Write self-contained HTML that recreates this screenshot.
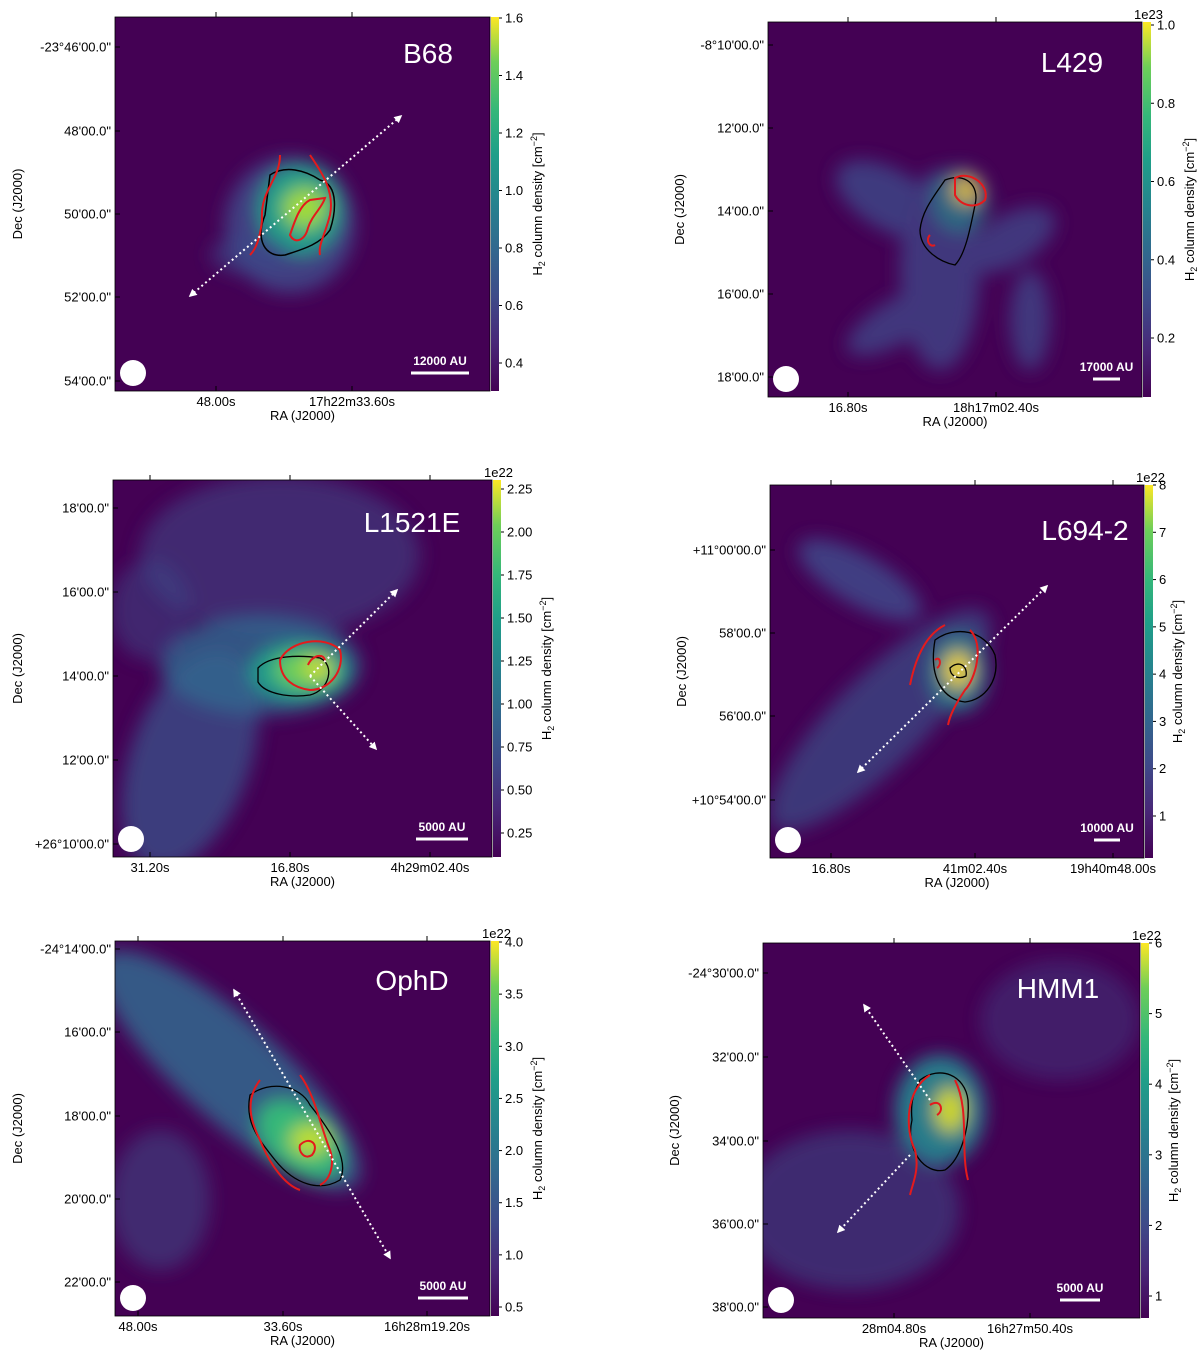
<!DOCTYPE html>
<html><head><meta charset="utf-8"><style>
body{margin:0;background:#fff;}
svg text{font-family:"Liberation Sans",sans-serif;}
</style></head><body>
<svg id="fig" width="1200" height="1356" viewBox="0 0 1200 1356" xmlns="http://www.w3.org/2000/svg">
<defs>
<linearGradient id="viridis" x1="0" y1="1" x2="0" y2="0">
<stop offset="0" stop-color="#440154"/><stop offset="0.13" stop-color="#482878"/><stop offset="0.25" stop-color="#3e4a89"/><stop offset="0.38" stop-color="#31688e"/><stop offset="0.5" stop-color="#26828e"/><stop offset="0.63" stop-color="#1f9e89"/><stop offset="0.75" stop-color="#35b779"/><stop offset="0.88" stop-color="#6ece58"/><stop offset="1" stop-color="#fde725"/>
</linearGradient>
<filter id="blur" x="-50%" y="-50%" width="200%" height="200%"><feGaussianBlur stdDeviation="9"/></filter>
<clipPath id="c1"><rect x="115" y="17" width="375" height="374"/></clipPath>
<clipPath id="c2"><rect x="768" y="22" width="374" height="375"/></clipPath>
<clipPath id="c3"><rect x="113" y="480" width="379" height="377"/></clipPath>
<clipPath id="c4"><rect x="770" y="485" width="374" height="373"/></clipPath>
<clipPath id="c5"><rect x="115" y="941" width="375" height="375"/></clipPath>
<clipPath id="c6"><rect x="763" y="943" width="377" height="375"/></clipPath>
<marker id="ah" viewBox="0 0 10 10" refX="8" refY="5" markerWidth="4" markerHeight="4" orient="auto-start-reverse"><path d="M0,0 L10,5 L0,10 z" fill="#fff"/></marker>
</defs>

<g clip-path="url(#c1)">
<rect x="115" y="17" width="375" height="374" fill="#440154"/>
<g filter="url(#blur)">
<ellipse cx="290" cy="225" rx="65" ry="68" fill="#3e4a89" opacity="0.85"/>
<ellipse cx="300" cy="210" rx="42" ry="45" fill="#1f9e89"/>
<ellipse cx="305" cy="208" rx="22" ry="20" fill="#a0da39"/>
<ellipse cx="250" cy="255" rx="40" ry="20" fill="#3e4a89" opacity="0.6"/>
</g>
<path d="M270,175 C285,165 305,170 320,180 C340,185 335,215 330,230 C320,245 300,250 285,255 C265,258 255,240 265,215 Z" fill="none" stroke="#000" stroke-width="1.5"/>
<path d="M280,155 C280,180 260,190 262,220 C260,240 255,250 250,255 M310,155 C320,170 335,190 330,215 C325,235 318,245 320,255 M310,200 C300,205 295,220 290,235 C295,245 305,240 308,228 C312,215 322,208 325,198 Z" fill="none" stroke="#e41a1c" stroke-width="2"/>
</g>
<g clip-path="url(#c2)">
<rect x="768" y="22" width="374" height="375" fill="#440154"/>
<g filter="url(#blur)" opacity="0.8">
<ellipse cx="890" cy="200" rx="60" ry="30" transform="rotate(30 890 200)" fill="#3e4a89"/>
<ellipse cx="940" cy="270" rx="40" ry="100" fill="#414487"/>
<ellipse cx="900" cy="320" rx="60" ry="22" transform="rotate(-30 900 320)" fill="#414487"/>
<ellipse cx="1010" cy="240" rx="50" ry="25" transform="rotate(-30 1010 240)" fill="#414487"/>
<ellipse cx="1030" cy="320" rx="20" ry="50" fill="#414487"/>
<ellipse cx="960" cy="200" rx="28" ry="32" fill="#26828e"/>
<ellipse cx="966" cy="190" rx="13" ry="13" fill="#fde725"/>
</g>
<path d="M945,180 C965,172 980,185 975,205 C970,230 965,255 955,265 C940,262 920,250 920,230 C922,210 935,195 945,180 Z" fill="none" stroke="#000" stroke-width="1.3"/>
<path d="M955,178 C970,170 990,185 985,200 C975,210 960,205 955,195 Z M930,235 C925,240 930,248 935,245" fill="none" stroke="#e41a1c" stroke-width="2"/>
</g>
<g clip-path="url(#c3)">
<rect x="113" y="480" width="379" height="377" fill="#440154"/>
<g filter="url(#blur)">
<ellipse cx="280" cy="555" rx="140" ry="80" fill="#3e4a89" opacity="0.55"/>
<ellipse cx="190" cy="760" rx="60" ry="115" transform="rotate(20 190 760)" fill="#3b528b" opacity="0.75"/>
<ellipse cx="260" cy="665" rx="100" ry="50" fill="#31688e" opacity="0.8"/>
<ellipse cx="150" cy="610" rx="40" ry="50" fill="#3e4a89" opacity="0.5"/>
<ellipse cx="300" cy="672" rx="50" ry="30" fill="#1f9e89"/>
<ellipse cx="305" cy="670" rx="30" ry="18" fill="#6ece58"/>
<ellipse cx="318" cy="668" rx="13" ry="10" fill="#d8e219"/>
</g>
<path d="M258,668 C270,655 300,655 320,658 C335,665 330,690 310,695 C290,698 265,694 258,682 Z" fill="none" stroke="#000" stroke-width="1.3"/>
<path d="M280,660 C290,640 325,635 340,650 C345,670 330,690 310,690 C295,688 280,680 280,660 Z M308,665 C312,655 325,652 325,662" fill="none" stroke="#e41a1c" stroke-width="2"/>
</g>
<g clip-path="url(#c4)">
<rect x="770" y="485" width="374" height="373" fill="#440154"/>
<g filter="url(#blur)" opacity="0.9">
<ellipse cx="880" cy="720" rx="150" ry="45" transform="rotate(-45 880 720)" fill="#3b528b" opacity="0.75"/>
<ellipse cx="860" cy="580" rx="70" ry="25" transform="rotate(30 860 580)" fill="#414487"/>
<ellipse cx="958" cy="672" rx="30" ry="40" fill="#26828e"/>
<ellipse cx="958" cy="670" rx="14" ry="18" fill="#fde725"/>
</g>
<path d="M935,640 C955,625 985,630 995,655 C1000,680 985,700 965,702 C945,700 928,680 935,640 Z M950,668 C958,660 968,665 966,676 C958,680 950,676 950,668 Z" fill="none" stroke="#000" stroke-width="1.3"/>
<path d="M945,625 C925,635 915,660 910,685 M970,630 C985,645 975,680 965,690 C955,705 950,715 948,725 M935,660 C940,655 942,665 937,668" fill="none" stroke="#e41a1c" stroke-width="2"/>
</g>
<g clip-path="url(#c5)">
<rect x="115" y="941" width="375" height="375" fill="#440154"/>
<g filter="url(#blur)">
<ellipse cx="230" cy="1070" rx="170" ry="50" transform="rotate(42 230 1070)" fill="#31688e" opacity="0.85"/>
<ellipse cx="160" cy="1200" rx="50" ry="70" fill="#3b528b" opacity="0.5"/>
<ellipse cx="300" cy="1140" rx="50" ry="32" transform="rotate(40 300 1140)" fill="#35b779"/>
<ellipse cx="310" cy="1140" rx="20" ry="15" fill="#c0df25"/>
</g>
<path d="M250,1095 C270,1080 300,1085 310,1105 C330,1130 350,1160 340,1180 C320,1192 295,1185 275,1160 C255,1135 245,1120 250,1095 Z" fill="none" stroke="#000" stroke-width="1.3"/>
<path d="M260,1080 C245,1100 250,1120 260,1140 C270,1165 285,1185 300,1190 M300,1075 C315,1095 320,1125 330,1150 C335,1165 330,1180 320,1185 M300,1145 C310,1135 320,1145 312,1155 C305,1160 298,1152 300,1145 Z" fill="none" stroke="#e41a1c" stroke-width="2"/>
</g>
<g clip-path="url(#c6)">
<rect x="763" y="943" width="377" height="375" fill="#440154"/>
<g filter="url(#blur)" opacity="0.95">
<ellipse cx="850" cy="1210" rx="110" ry="80" fill="#3b528b" opacity="0.55"/>
<ellipse cx="1060" cy="1020" rx="80" ry="60" fill="#414487" opacity="0.45"/>
<ellipse cx="940" cy="1110" rx="45" ry="55" fill="#26828e"/>
<ellipse cx="950" cy="1110" rx="15" ry="22" fill="#d8e219"/>
</g>
<path d="M920,1080 C940,1065 965,1075 968,1100 C970,1130 960,1160 945,1170 C925,1175 905,1150 912,1120 C910,1100 915,1090 920,1080 Z" fill="none" stroke="#000" stroke-width="1.3"/>
<path d="M930,1075 C905,1090 905,1130 915,1150 C920,1170 912,1185 910,1195 M955,1080 C970,1110 960,1150 968,1180 M930,1105 C940,1098 945,1110 937,1115" fill="none" stroke="#e41a1c" stroke-width="2"/>
</g>

<g stroke="#fff" stroke-width="2" stroke-dasharray="2,3" fill="none">
<line x1="190" y1="296" x2="401" y2="116" marker-start="url(#ah)" marker-end="url(#ah)"/>
<line x1="310" y1="676" x2="397" y2="590" marker-end="url(#ah)"/>
<line x1="310" y1="676" x2="376" y2="749" marker-end="url(#ah)"/>
<line x1="858" y1="772" x2="1047" y2="586" marker-start="url(#ah)" marker-end="url(#ah)"/>
<line x1="234" y1="990" x2="390" y2="1258" marker-start="url(#ah)" marker-end="url(#ah)"/>
<line x1="930" y1="1100" x2="864" y2="1005" marker-end="url(#ah)"/>
<line x1="910" y1="1155" x2="838" y2="1232" marker-end="url(#ah)"/>
</g>
<g id="panels"></g>
</svg>
<script>
const b68CbTicks=[0.4,0.6,0.8,1.0,1.2,1.4,1.6];
const l429CbTicks=[0.2,0.4,0.6,0.8,1.0];
const l1521eCbTicks=[0.25,0.50,0.75,1.00,1.25,1.50,1.75,2.00,2.25];
const l694CbTicks=[1,2,3,4,5,6,7,8];
const ophdCbTicks=[0.5,1.0,1.5,2.0,2.5,3.0,3.5,4.0];
const hmm1CbTicks=[1,2,3,4,5,6];
const b68Dec=['-23°46\'00.0"','48\'00.0"','50\'00.0"','52\'00.0"','54\'00.0"'];
const l429Dec=['-8°10\'00.0"','12\'00.0"','14\'00.0"','16\'00.0"','18\'00.0"'];
const l1521eDec=['18\'00.0"','16\'00.0"','14\'00.0"','12\'00.0"','+26°10\'00.0"'];
const l694Dec=['+11°00\'00.0"','58\'00.0"','56\'00.0"','+10°54\'00.0"'];
const ophdDec=['-24°14\'00.0"','16\'00.0"','18\'00.0"','20\'00.0"','22\'00.0"'];
const hmm1Dec=['-24°30\'00.0"','32\'00.0"','34\'00.0"','36\'00.0"','38\'00.0"'];
const b68Ra=['48.00s','17h22m33.60s'];
const l429Ra=['16.80s','18h17m02.40s'];
const l1521eRa=['31.20s','16.80s','4h29m02.40s'];
const l694Ra=['16.80s','41m02.40s','19h40m48.00s'];
const ophdRa=['48.00s','33.60s','16h28m19.20s'];
const hmm1Ra=['28m04.80s','16h27m50.40s'];

const NS='http://www.w3.org/2000/svg';
const root=document.getElementById('panels');
function mk(tag,attrs,parent,txt){const e=document.createElementNS(NS,tag);for(const k in attrs)e.setAttribute(k,attrs[k]);if(txt!==undefined)e.textContent=txt;parent.appendChild(e);return e;}

const panels=[
 {id:'b68',title:'B68',x:115,y:17,w:375,h:374,cb:b68CbTicks,cbTop:18,cbBot:363,exp:'',dec:b68Dec,decY:[47,131,214,297,381],ra:b68Ra,raX:[216,352],scale:'12000 AU',sb:[411,469],tx:428,ty:53},
 {id:'l429',title:'L429',x:768,y:22,w:374,h:375,cb:l429CbTicks,cbTop:25,cbBot:338,exp:'1e23',dec:l429Dec,decY:[45,128,211,294,377],ra:l429Ra,raX:[848,996],scale:'17000 AU',sb:[1093,1120],tx:1072,ty:62},
 {id:'l1521e',title:'L1521E',x:113,y:480,w:379,h:377,cb:l1521eCbTicks,cbTop:489,cbBot:833,exp:'1e22',dec:l1521eDec,decY:[508,592,676,760,844],ra:l1521eRa,raX:[150,290,430],scale:'5000 AU',sb:[416,468],tx:412,ty:522},
 {id:'l694-2',title:'L694-2',x:770,y:485,w:374,h:373,cb:l694CbTicks,cbTop:485,cbBot:816,exp:'1e22',dec:l694Dec,decY:[550,633,716,800],ra:l694Ra,raX:[831,975,1113],scale:'10000 AU',sb:[1094,1120],tx:1085,ty:530},
 {id:'ophd',title:'OphD',x:115,y:941,w:375,h:375,cb:ophdCbTicks,cbTop:942,cbBot:1307,exp:'1e22',dec:ophdDec,decY:[949,1032,1116,1199,1282],ra:ophdRa,raX:[138,283,427],scale:'5000 AU',sb:[418,468],tx:412,ty:980},
 {id:'hmm1',title:'HMM1',x:763,y:943,w:377,h:375,cb:hmm1CbTicks,cbTop:943,cbBot:1296,exp:'1e22',dec:hmm1Dec,decY:[973,1057,1141,1224,1307],ra:hmm1Ra,raX:[894,1030],scale:'5000 AU',sb:[1060,1100],tx:1058,ty:988}
];
panels.forEach(p=>{
 const g=mk('g',{},root);
 
 
 const fr=mk('rect',{x:p.x,y:p.y,width:p.w,height:p.h,fill:'none',stroke:'#000','stroke-width':0.8},g);
 
 
 const t=mk('text',{x:p.tx,y:p.ty+10,'text-anchor':'middle','font-size':28,fill:'#fff'},g,p.title);
 
 
 const bm=mk('circle',{cx:p.x+18,cy:p.y+p.h-18,r:13,fill:'#fff'},g);
 
 
 const sc=(p.sb[0]+p.sb[1])/2;
 const st=mk('text',{x:sc,y:p.y+p.h-26,'text-anchor':'middle','font-size':12,'font-weight':'bold',fill:'#fff'},g,p.scale);
 
 
 const sl=mk('line',{x1:p.sb[0],x2:p.sb[1],y1:p.y+p.h-18,y2:p.y+p.h-18,stroke:'#fff','stroke-width':3},g);
 
 
 const cx=p.x+p.w+1;
 const cbr=mk('rect',{x:cx,y:p.y,width:8,height:p.h,fill:'url(#viridis)'},g);
 
 
 const lo=p.cb[0],hi=p.cb[p.cb.length-1];
 const yS=v=>p.cbBot+(v-lo)/(hi-lo)*(p.cbTop-p.cbBot);
 let maxLen=0;
 p.cb.forEach(v=>{
  const y=yS(v);
  mk('line',{x1:cx+8,x2:cx+11,y1:y,y2:y,stroke:'#000'},g);
  const lab=p.cb.every(Number.isInteger)?String(v):(p.id==='l1521e'?v.toFixed(2):v.toFixed(1));
  maxLen=Math.max(maxLen,lab.length);
  const tt=mk('text',{x:cx+14,y:y+4.5,'font-size':13,fill:'#000'},g,lab);
  
  
 });
 if(p.exp){const e=mk('text',{x:cx-9,y:p.y-3,'font-size':13},g,p.exp);}
 const cyc=p.y+p.h/2;
 const cl=mk('text',{x:0,y:0,'font-size':13,'text-anchor':'middle',transform:`translate(${cx+30+maxLen*7},${cyc}) rotate(-90)`},g);
 cl.innerHTML='H<tspan font-size="9" dy="3">2</tspan><tspan dy="-3"> column density [cm</tspan><tspan font-size="9" dy="-5">−2</tspan><tspan dy="5">]</tspan>';
 
 
 p.dec.forEach((d,i)=>{
  const y=p.decY[i];
  mk('line',{x1:p.x,x2:p.x+5,y1:y,y2:y,stroke:'#000'},g);
  const tt=mk('text',{x:p.x-4,y:y+4.5,'text-anchor':'end','font-size':13},g,d);
  
  
 });
 p.ra.forEach((r,i)=>{
  const x=p.raX[i];
  mk('line',{x1:x,x2:x,y1:p.y+p.h,y2:p.y+p.h-5,stroke:'#000'},g);
  mk('line',{x1:x,x2:x,y1:p.y,y2:p.y-5,stroke:'#000'},g);
  const tt=mk('text',{x:x,y:p.y+p.h+15,'text-anchor':'middle','font-size':13},g,r);
  
  
 });
 const rl=mk('text',{x:p.x+p.w/2,y:p.y+p.h+29,'text-anchor':'middle','font-size':13},g,'RA (J2000)');
 
 
 const dl=mk('text',{x:0,y:0,'text-anchor':'middle','font-size':13,transform:`translate(${p.x<500?22:p.x-84},${cyc}) rotate(-90)`},g,'Dec (J2000)');
 
 
});
</script>
</body></html>
